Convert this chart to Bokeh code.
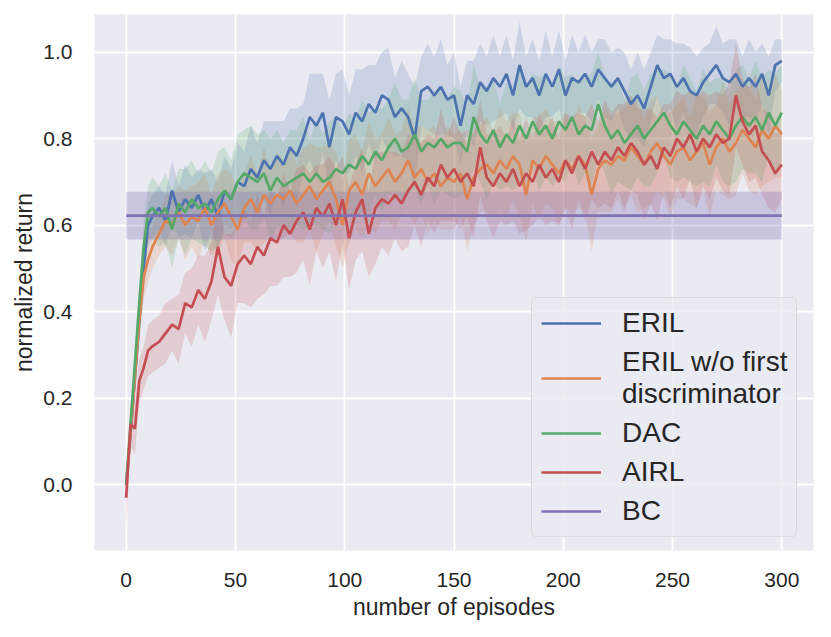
from bokeh.plotting import figure
from bokeh.models import Legend, LegendItem, FixedTicker, PrintfTickFormatter, Range1d
from bokeh.embed import file_html
from bokeh.resources import INLINE

# ---------------- data ----------------
EPISODES = [0, 2, 4, 6, 8, 10, 12] + list(range(15, 301, 3))

ERIL = [0.00, 0.12, 0.25, 0.38, 0.50, 0.60, 0.62,
        0.64, 0.61, 0.68, 0.63, 0.66, 0.64, 0.67, 0.63, 0.66, 0.62,
        0.68, 0.66, 0.70, 0.69, 0.73, 0.71, 0.75, 0.73, 0.76, 0.74,
        0.78, 0.76, 0.80, 0.85, 0.83, 0.86, 0.78, 0.85, 0.84, 0.81,
        0.86, 0.84, 0.88, 0.86, 0.90, 0.89, 0.85, 0.87, 0.85, 0.80,
        0.91, 0.92, 0.90, 0.92, 0.89, 0.90, 0.83, 0.90, 0.88, 0.93,
        0.91, 0.94, 0.92, 0.95, 0.90, 0.97, 0.92, 0.94, 0.90, 0.95,
        0.92, 0.96, 0.90, 0.94, 0.93, 0.95, 0.92, 0.96, 0.94, 0.92,
        0.94, 0.91, 0.88, 0.90, 0.87, 0.92, 0.97, 0.94, 0.95, 0.92,
        0.94, 0.91, 0.90, 0.93, 0.95, 0.97, 0.94, 0.93, 0.95, 0.92,
        0.94, 0.92, 0.95, 0.90, 0.97, 0.98]
ERIL_SPREAD = [0.00, 0.03, 0.05, 0.06, 0.06, 0.05, 0.05,
               0.05, 0.06, 0.07, 0.06, 0.08, 0.07, 0.06, 0.09, 0.07, 0.08,
               0.08, 0.07, 0.09, 0.08, 0.10, 0.08, 0.09, 0.11, 0.08, 0.10,
               0.09, 0.11, 0.08, 0.10, 0.12, 0.09, 0.11, 0.10, 0.12, 0.09,
               0.10, 0.12, 0.09, 0.11, 0.10, 0.12, 0.09, 0.11, 0.10, 0.12,
               0.08, 0.10, 0.09, 0.11, 0.08, 0.10, 0.09, 0.08, 0.10, 0.09,
               0.08, 0.10, 0.07, 0.09, 0.08, 0.10, 0.07, 0.09, 0.08, 0.10,
               0.07, 0.09, 0.08, 0.10, 0.07, 0.09, 0.08, 0.07, 0.09, 0.08,
               0.07, 0.09, 0.08, 0.10, 0.09, 0.08, 0.07, 0.09, 0.08, 0.10,
               0.08, 0.10, 0.09, 0.08, 0.07, 0.09, 0.08, 0.10, 0.08, 0.07,
               0.09, 0.08, 0.07, 0.09, 0.06, 0.05]

ERIL_WO = [0.00, 0.12, 0.25, 0.38, 0.48, 0.52, 0.55,
           0.58, 0.61, 0.60, 0.63, 0.60, 0.62, 0.61, 0.64, 0.60, 0.63,
           0.65, 0.62, 0.59, 0.64, 0.66, 0.63, 0.67, 0.65, 0.67, 0.66,
           0.68, 0.65, 0.67, 0.69, 0.66, 0.68, 0.70, 0.66, 0.60, 0.68,
           0.70, 0.67, 0.72, 0.69, 0.71, 0.73, 0.70, 0.72, 0.75, 0.71,
           0.73, 0.70, 0.72, 0.69, 0.71, 0.70, 0.72, 0.66, 0.71, 0.73,
           0.74, 0.72, 0.75, 0.73, 0.76, 0.74, 0.67, 0.75, 0.73, 0.76,
           0.74, 0.72, 0.75, 0.73, 0.76, 0.74, 0.67, 0.73, 0.75, 0.74,
           0.76, 0.75, 0.78, 0.76, 0.74, 0.77, 0.79, 0.76, 0.74, 0.77,
           0.78, 0.75, 0.77, 0.79, 0.74, 0.78, 0.80, 0.77, 0.79, 0.82,
           0.80, 0.78, 0.82, 0.80, 0.83, 0.81]
ERIL_WO_SPREAD = [0.00, 0.03, 0.04, 0.05, 0.05, 0.05, 0.05,
                  0.05, 0.06, 0.07, 0.06, 0.08, 0.07, 0.09, 0.08, 0.07, 0.09,
                  0.08, 0.10, 0.09, 0.08, 0.10, 0.09, 0.11, 0.08, 0.10, 0.09,
                  0.10, 0.09, 0.11, 0.10, 0.12, 0.10, 0.09, 0.11, 0.10, 0.12,
                  0.11, 0.10, 0.12, 0.11, 0.10, 0.12, 0.11, 0.10, 0.12, 0.11,
                  0.10, 0.12, 0.11, 0.10, 0.12, 0.11, 0.10, 0.12, 0.11, 0.10,
                  0.11, 0.10, 0.12, 0.11, 0.10, 0.12, 0.11, 0.10, 0.12, 0.11,
                  0.10, 0.12, 0.11, 0.10, 0.12, 0.11, 0.13, 0.10, 0.12, 0.11,
                  0.10, 0.12, 0.11, 0.13, 0.10, 0.12, 0.11, 0.10, 0.12, 0.11,
                  0.12, 0.10, 0.13, 0.11, 0.12, 0.10, 0.13, 0.11, 0.12, 0.10,
                  0.12, 0.11, 0.13, 0.10, 0.12, 0.10]

DAC = [0.00, 0.14, 0.28, 0.42, 0.55, 0.63, 0.64,
       0.62, 0.64, 0.59, 0.65, 0.63, 0.66, 0.64, 0.65, 0.63, 0.66,
       0.68, 0.66, 0.70, 0.72, 0.71, 0.70, 0.72, 0.68, 0.71, 0.69,
       0.70, 0.71, 0.72, 0.70, 0.72, 0.70, 0.71, 0.73, 0.72, 0.74,
       0.73, 0.76, 0.74, 0.77, 0.75, 0.78, 0.80, 0.77, 0.78, 0.81,
       0.77, 0.79, 0.78, 0.80, 0.78, 0.79, 0.79, 0.77, 0.85, 0.81,
       0.79, 0.82, 0.78, 0.81, 0.79, 0.83, 0.80, 0.84, 0.81, 0.83,
       0.80, 0.84, 0.82, 0.85, 0.81, 0.83, 0.82, 0.88, 0.83, 0.80,
       0.82, 0.79, 0.81, 0.83, 0.80, 0.82, 0.84, 0.86, 0.83, 0.81,
       0.84, 0.82, 0.80, 0.83, 0.81, 0.84, 0.82, 0.80, 0.83, 0.85,
       0.83, 0.85, 0.82, 0.86, 0.83, 0.86]
DAC_SPREAD = [0.00, 0.03, 0.04, 0.05, 0.06, 0.06, 0.07,
              0.07, 0.08, 0.09, 0.08, 0.10, 0.09, 0.08, 0.10, 0.09, 0.11,
              0.10, 0.09, 0.11, 0.10, 0.12, 0.11, 0.10, 0.12, 0.11, 0.10,
              0.12, 0.11, 0.13, 0.10, 0.12, 0.11, 0.13, 0.12, 0.10, 0.12,
              0.11, 0.13, 0.12, 0.10, 0.12, 0.11, 0.13, 0.12, 0.11, 0.13,
              0.12, 0.10, 0.13, 0.12, 0.11, 0.13, 0.12, 0.10, 0.12, 0.11,
              0.13, 0.12, 0.10, 0.12, 0.11, 0.13, 0.12, 0.11, 0.13, 0.12,
              0.11, 0.13, 0.12, 0.10, 0.12, 0.11, 0.13, 0.12, 0.11, 0.13,
              0.12, 0.10, 0.13, 0.12, 0.11, 0.13, 0.12, 0.10, 0.12, 0.11,
              0.13, 0.12, 0.11, 0.13, 0.12, 0.10, 0.12, 0.11, 0.13, 0.12,
              0.11, 0.13, 0.12, 0.10, 0.12, 0.11]

AIRL = [-0.03, 0.14, 0.13, 0.24, 0.27, 0.31, 0.32,
        0.33, 0.35, 0.37, 0.36, 0.42, 0.41, 0.45, 0.43, 0.47, 0.55,
        0.48, 0.46, 0.51, 0.53, 0.51, 0.55, 0.53, 0.57, 0.56, 0.60,
        0.58, 0.61, 0.63, 0.59, 0.64, 0.62, 0.65, 0.60, 0.66, 0.57,
        0.63, 0.66, 0.58, 0.64, 0.66, 0.65, 0.67, 0.65, 0.68, 0.70,
        0.67, 0.71, 0.69, 0.74, 0.71, 0.73, 0.70, 0.72, 0.69, 0.78,
        0.71, 0.69, 0.72, 0.70, 0.73, 0.69, 0.72, 0.70, 0.74, 0.71,
        0.73, 0.70, 0.75, 0.72, 0.76, 0.73, 0.77, 0.74, 0.77, 0.75,
        0.78, 0.76, 0.79, 0.77, 0.74, 0.76, 0.73, 0.78, 0.76, 0.80,
        0.78, 0.81, 0.77, 0.80, 0.78, 0.81, 0.79, 0.80, 0.90, 0.84,
        0.81, 0.83, 0.77, 0.75, 0.72, 0.74]
AIRL_SPREAD = [0.07, 0.05, 0.06, 0.05, 0.05, 0.06, 0.06,
               0.06, 0.07, 0.06, 0.08, 0.07, 0.09, 0.08, 0.10, 0.09, 0.11,
               0.10, 0.12, 0.09, 0.11, 0.10, 0.12, 0.09, 0.11, 0.10, 0.12,
               0.10, 0.12, 0.11, 0.13, 0.10, 0.12, 0.11, 0.13, 0.10, 0.12,
               0.11, 0.12, 0.10, 0.13, 0.11, 0.12, 0.10, 0.11, 0.13, 0.10,
               0.12, 0.10, 0.11, 0.13, 0.10, 0.12, 0.11, 0.10, 0.12, 0.11,
               0.10, 0.12, 0.11, 0.10, 0.12, 0.11, 0.13, 0.10, 0.12, 0.11,
               0.12, 0.10, 0.11, 0.13, 0.10, 0.12, 0.11, 0.10, 0.12, 0.11,
               0.10, 0.12, 0.11, 0.10, 0.13, 0.11, 0.12, 0.10, 0.12, 0.11,
               0.12, 0.10, 0.13, 0.11, 0.12, 0.10, 0.11, 0.13, 0.12, 0.10,
               0.11, 0.12, 0.10, 0.11, 0.09, 0.08]

BC_EPISODES = [0, 300]
BC_MEAN = 0.622
BC_SPREAD = 0.055

LABELS = ["ERIL", "ERIL w/o first\ndiscriminator", "DAC", "AIRL", "BC"]
COLORS = ["#4C72B0", "#DD8452", "#55A868", "#C44E52", "#8172B3"]
X_TICKS = [0, 50, 100, 150, 200, 250, 300]
Y_TICKS = [0.0, 0.2, 0.4, 0.6, 0.8, 1.0]

FONT = "Liberation Sans"
TEXT = "#262626"

# ---------------- figure ----------------
p = figure(frame_width=719, frame_height=536,
           x_range=Range1d(-14.5, 314.5), y_range=Range1d(-0.152, 1.087),
           output_backend="svg", toolbar_location=None,
           min_border_left=94, min_border_top=14, min_border_right=5,
           min_border_bottom=75)
p.background_fill_color = "#EAEAF2"
p.border_fill_color = "white"
p.outline_line_color = None

for ax in (p.xaxis[0], p.yaxis[0]):
    ax.axis_line_color = None
    ax.major_tick_line_color = None
    ax.minor_tick_line_color = None
    ax.major_tick_out = 0
    ax.major_tick_in = 0
    ax.major_label_text_font = FONT
    ax.major_label_text_font_size = "21px"
    ax.major_label_text_color = TEXT
    ax.axis_label_text_font = FONT
    ax.axis_label_text_font_size = "23px"
    ax.axis_label_text_font_style = "normal"
    ax.axis_label_text_color = TEXT

p.xaxis[0].ticker = FixedTicker(ticks=X_TICKS)
p.yaxis[0].ticker = FixedTicker(ticks=Y_TICKS)
p.yaxis[0].formatter = PrintfTickFormatter(format="%.1f")
p.xaxis[0].axis_label = "number of episodes"
p.yaxis[0].axis_label = "normalized return"
p.xaxis[0].major_label_standoff = 22
p.yaxis[0].major_label_standoff = 22
p.xaxis[0].axis_label_standoff = 4
p.yaxis[0].axis_label_standoff = 3

for g in (p.xgrid[0], p.ygrid[0]):
    g.grid_line_color = "white"
    g.grid_line_width = 1.8
p.xgrid[0].ticker = FixedTicker(ticks=X_TICKS)
p.ygrid[0].ticker = FixedTicker(ticks=Y_TICKS)

series = [(ERIL, ERIL_SPREAD), (ERIL_WO, ERIL_WO_SPREAD), (DAC, DAC_SPREAD), (AIRL, AIRL_SPREAD)]

# bands first (under all lines)
for (vals, spr), col in zip(series, COLORS):
    lo = [v - s for v, s in zip(vals, spr)]
    hi = [v + s for v, s in zip(vals, spr)]
    p.varea(x=EPISODES, y1=lo, y2=hi, fill_color=col, fill_alpha=0.2)
p.varea(x=BC_EPISODES, y1=[BC_MEAN - BC_SPREAD] * 2, y2=[BC_MEAN + BC_SPREAD] * 2,
        fill_color=COLORS[4], fill_alpha=0.3)

renderers = []
for (vals, spr), col in zip(series, COLORS):
    renderers.append(p.line(EPISODES, vals, line_color=col, line_width=2.7))
renderers.append(p.line(BC_EPISODES, [BC_MEAN] * 2, line_color=COLORS[4], line_width=2.7))

legend = Legend(items=[LegendItem(label=l, renderers=[r]) for l, r in zip(LABELS, renderers)],
                location=(437, 13))
legend.label_text_font = FONT
legend.label_text_font_size = "28px"
legend.label_text_color = TEXT
legend.label_text_line_height = 1.0
legend.glyph_width = 60
legend.glyph_height = 28
legend.label_height = 28
legend.label_standoff = 21
legend.spacing = 7
legend.padding = 9
legend.margin = 0
legend.border_line_color = "#CCCCCC"
legend.border_line_width = 1.5
legend.border_radius = 5
legend.background_fill_color = "#EAEAF2"
legend.background_fill_alpha = 0.8
p.add_layout(legend)

open("out.html", "w").write(file_html(p, INLINE))
